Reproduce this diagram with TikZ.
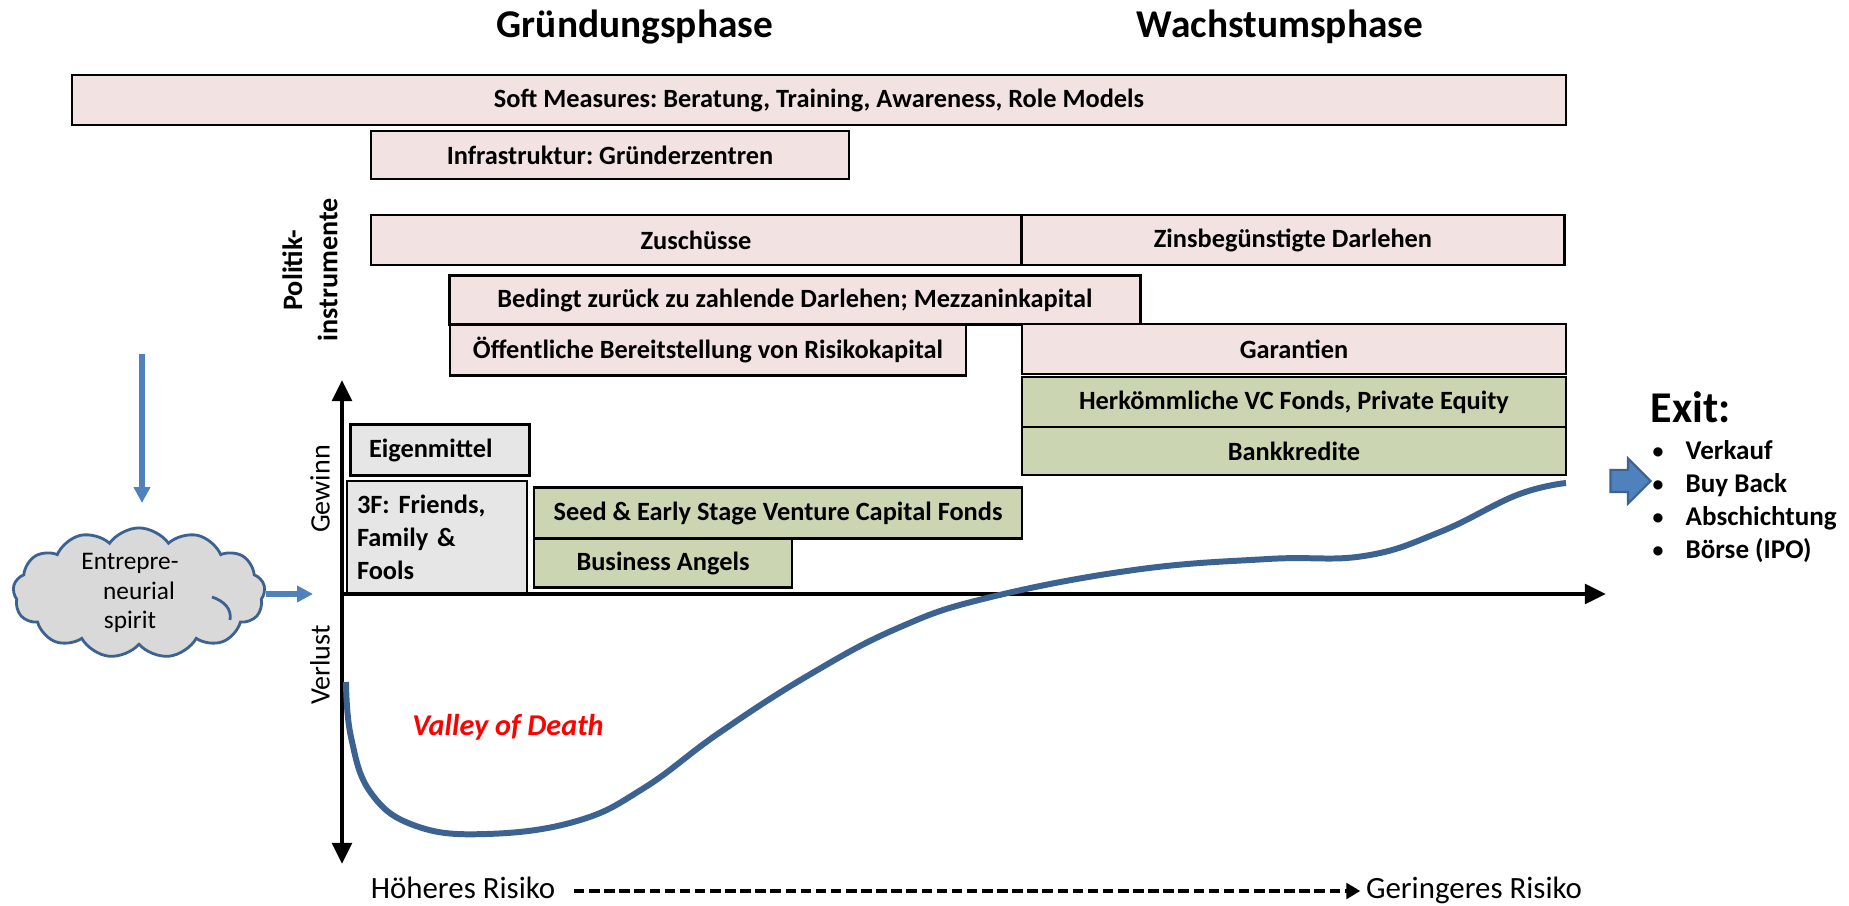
\documentclass[tikz,border=0pt]{standalone}
\usepackage{fontspec}
\setmainfont{Carlito}
\usetikzlibrary{arrows.meta,shapes.symbols,shapes.arrows}
\definecolor{softpink}{RGB}{242,226,225}
\definecolor{sagegreen}{RGB}{203,213,178}
\definecolor{lightgrey}{RGB}{230,230,230}
\definecolor{cloudgrey}{RGB}{217,217,217}
\definecolor{arrowblue}{RGB}{79,129,189}
\definecolor{curveblue}{RGB}{59,98,145}
\frenchspacing
\newcommand{\exitbullet}{\makebox[0.33cm][l]{\fontsize{6.2}{6}\selectfont\raisebox{0.3pt}{•}}}
\tikzset{
    label/.style={
        font=\fontsize{7.5}{9.4}\selectfont\bfseries,
        inner sep=0pt,
    },
    phase/.style={
        label,
        font=\fontsize{11.2}{13}\selectfont\bfseries,
    },
    side/.style={
        label,
        rotate=90,
        font=\fontsize{8}{10}\selectfont,
    },
    risk/.style={
        label,
        font=\fontsize{8.8}{10}\selectfont,
        text height=6pt,
        text depth=2pt,
    },
    instrument/.style={
        label,
        draw,
        line width=0.6pt,
        align=center,
    },
    policy/.style={instrument, fill=softpink},
    market/.style={instrument, fill=sagegreen},
    own/.style={instrument, fill=lightgrey, align=left},
    axis/.style={
        line width=1.2pt,
        -{Triangle[length=6pt, width=5.5pt]},
    },
    flow/.style={
        arrowblue,
        line width=1.5pt,
        -{Triangle[length=4.5pt, width=4.5pt]},
    },
}

\begin{document}
\begin{tikzpicture}
    \useasboundingbox (0, 0) rectangle (18.49, 9.06);

    % Phases
    \node[phase] (gruendung) at (6.35, 8.79) {Gründungsphase};
    \node[phase] (wachstum) at (12.80, 8.79) {Wachstumsphase};

    % Policy instruments
    \node[policy, minimum width=14.94cm, minimum height=0.50cm] (soft) at (8.19, 8.06)
      {Soft Measures: Beratung, Training, Awareness, Role Models};
    \node[policy, minimum width=4.78cm, minimum height=0.48cm] (infra) at (6.10, 7.51)
      {Infrastruktur: Gründerzentren};
    \node[policy, minimum width=6.50cm, minimum height=0.50cm] (zuschuesse) at (6.96, 6.66)
      {Zuschüsse};
    \node[policy, minimum width=5.43cm, minimum height=0.50cm] (zins) at (12.93, 6.66)
      {Zinsbegünstigte Darlehen};
    \node[policy, minimum width=6.91cm, minimum height=0.49cm] (bedingt) at (7.95, 6.06)
      {Bedingt zurück zu zahlende Darlehen; Mezzaninkapital};
    \node[policy, minimum width=5.16cm, minimum height=0.51cm] (risikokapital) at (7.08, 5.56)
      {Öffentliche Bereitstellung von Risikokapital};
    \node[policy, minimum width=5.44cm, minimum height=0.50cm] (garantien) at (12.94, 5.57)
      {Garantien};
    \node[side, font=\fontsize{8}{10}\selectfont\bfseries, align=center] (politik) at (3.10, 6.36) {Politik-\\instrumente};

    % Market instruments
    \node[market, minimum width=5.44cm, minimum height=0.50cm] (vc) at (12.94, 5.04)
      {Herkömmliche VC Fonds, Private Equity};
    \node[market, minimum width=5.44cm, minimum height=0.48cm] (bank) at (12.94, 4.55)
      {Bankkredite};
    \node[market, minimum width=4.88cm, minimum height=0.51cm] (seed) at (7.78, 3.93)
      {Seed \& Early Stage Venture Capital Fonds};
    \node[market, minimum width=2.58cm, minimum height=0.49cm] (angels) at (6.63, 3.43)
      {Business Angels};

    % Own funds
    \node[own, minimum width=1.79cm, minimum height=0.51cm, text width=1.42cm] (eigen) at (4.40, 4.56)
      {Eigenmittel};
    \node[own, minimum width=1.80cm, minimum height=1.12cm, text width=1.60cm] (fff) at (4.37, 3.69)
      {3F: Friends,\\Family \&\\Fools};

    % Axes
    \coordinate (origin) at (3.42, 3.12);
    \coordinate (gain) at (3.42, 5.26);
    \coordinate (loss) at (3.42, 0.42);
    \coordinate (time) at (16.06, 3.12);
    \draw[axis] (origin) -- (gain);
    \draw[axis] (origin) -- (loss);
    \draw[axis] (origin) -- (time);
    \node[side] (gewinn) at (3.20, 4.17) {Gewinn};
    \node[side] (verlust) at (3.20, 2.41) {Verlust};

    % Curve
    \draw[curveblue, line width=1.7pt] plot[smooth, tension=0.7] coordinates {
      (3.46, 2.24) (3.51, 1.69) (3.71, 1.13) (4.16, 0.80) (4.87, 0.72) (5.77, 0.85)
      (6.44, 1.18) (7.19, 1.73) (8.09, 2.31) (8.98, 2.78) (9.87, 3.08) (11.34, 3.36)
      (12.68, 3.47) (13.64, 3.50) (14.40, 3.74) (15.17, 4.11) (15.66, 4.23)};
    \node[label, red, font=\fontsize{8.6}{10}\selectfont\bfseries\itshape] (valley) at (5.08, 1.79) {Valley of Death};

    % Entrepreneurial spirit
    \node[cloud, cloud ignores aspect, draw=curveblue, fill=cloudgrey, line width=0.8pt, cloud puffs=13, cloud puff arc=110,
      minimum width=2.52cm, minimum height=1.27cm, inner sep=0pt, align=center,
      font=\fontsize{7.2}{8.5}\selectfont] (spirit) at (1.39, 3.13)
      {Entrepre-\hspace*{0.18cm}\\neurial\hspace*{0.18cm}\\spirit\hspace*{0.18cm}};
    \draw[curveblue, line width=0.8pt] (2.12, 3.09) .. controls (2.24, 3.05) and (2.32, 2.97) .. (2.30, 2.86);
    \coordinate (spiritend) at (3.13, 3.12);
    \draw[flow] (spirit.east |- spiritend) -- (spiritend);
    \coordinate (topstart) at (1.42, 5.52);
    \coordinate (topend) at (1.42, 4.03);
    \draw[flow] (topstart) -- (topend);

    % Exit
    \node[single arrow, fill=arrowblue, draw=curveblue, line width=0.6pt, minimum height=0.40cm, minimum width=0.43cm,
      single arrow head extend=0.115cm, inner xsep=0pt, inner ysep=0.10cm] (exitarrow) at (16.25, 4.25) {};
    \node[label, font=\fontsize{12.5}{14}\selectfont\bfseries, anchor=west] (exit) at (16.50, 4.99) {Exit:};
    \node[label, font=\fontsize{7.7}{9.4}\selectfont\bfseries, anchor=north west, align=left] (exits) at (16.52, 4.66)
      {\exitbullet Verkauf\\\exitbullet Buy Back\\\exitbullet Abschichtung\\\exitbullet Börse (IPO)};

    % Risk
    \node[risk] (high) at (4.63, 0.15) {Höheres Risiko};
    \node[risk] (low) at (14.74, 0.15) {Geringeres Risiko};
    \draw[line width=0.9pt, dash pattern=on 3pt off 1.3pt, shorten <=0.18cm, shorten >=0.05cm,
      -{Triangle[length=4pt, width=4.5pt]}] (high.east) -- (low.west);
\end{tikzpicture}
\end{document}
